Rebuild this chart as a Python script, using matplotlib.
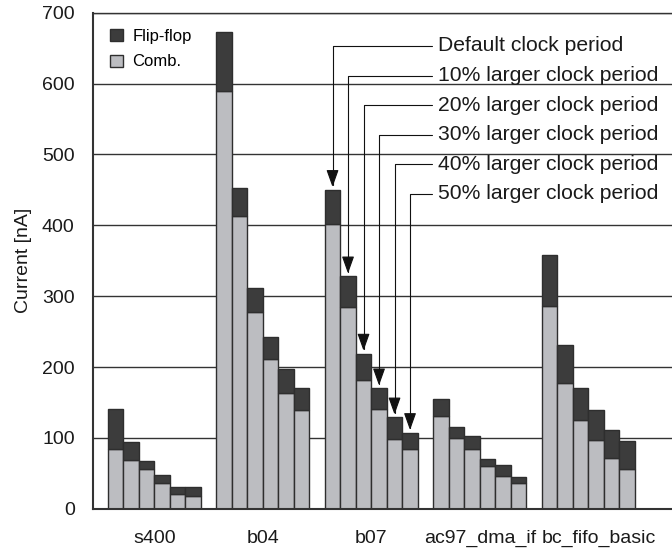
import numpy as np
from matplotlib import pyplot as plt

plt.rcParams['font.family'] = ['Liberation Sans', 'DejaVu Sans']

circuits = ['s400', 'b04', 'b07', 'ac97_dma_if', 'bc_fifo_basic']
periods = ['Default clock period', '10% larger clock period', '20% larger clock period',
           '30% larger clock period', '40% larger clock period', '50% larger clock period']

# combinational current per circuit, one value per clock period setting
comb = {
    's400': [85, 69, 56, 36, 21, 18],
    'b04': [590, 413, 278, 211, 164, 139],
    'b07': [402, 285, 181, 141, 98, 84],
    'ac97_dma_if': [131, 100, 85, 61, 46, 36],
    'bc_fifo_basic': [286, 178, 125, 97, 71, 56],
}
# flip-flop current stacked on top
flipflop = {
    's400': [56, 25, 11, 12, 10, 12],
    'b04': [82, 39, 33, 31, 33, 31],
    'b07': [48, 43, 38, 29, 31, 23],
    'ac97_dma_if': [24, 15, 17, 9, 16, 9],
    'bc_fifo_basic': [72, 53, 45, 42, 40, 40],
}

fig = plt.figure(figsize=(6.72, 5.5), dpi=100)
ax = fig.add_axes([0.138, 0.075, 0.862, 0.902])

n = len(periods)
group = n + 1
for i, name in enumerate(circuits):
    x = group * i + np.arange(n)
    c = np.array(comb[name])
    f = np.array(flipflop[name])
    ax.bar(x, c, width=1.0, align='edge', color='#bcbdc1', edgecolor='#2e2e2e',
           linewidth=1.0, label='Comb.' if i == 0 else None)
    ax.bar(x, f, bottom=c, width=1.0, align='edge', color='#3c3c3c', edgecolor='#2e2e2e',
           linewidth=1.0, label='Flip-flop' if i == 0 else None)

# arrows pointing at the b07 group
b07 = circuits.index('b07')
for k, label in enumerate(periods):
    xb = group * b07 + k + 0.5
    top = comb['b07'][k] + flipflop['b07'][k]
    ax.annotate(label, xy=(xb, top), xytext=(21.3, 653 - 41.7 * k),
                ha='left', va='center', fontsize=15.2, color='#1a1a1a',
                arrowprops=dict(arrowstyle='-|>,head_length=0.7,head_width=0.25',
                                connectionstyle='angle,angleA=0,angleB=90,rad=0',
                                color='#111111', lw=0.8, shrinkA=2, shrinkB=2))

ax.set_xlim(-0.97, 36.4)
ax.set_ylim(0, 700)
ax.set_yticks(range(0, 701, 100))
# the last label is nudged right so the two long names don't collide
xt = [group * i + n / 2 for i in range(len(circuits))]
xt[-1] += 0.7
ax.set_xticks(xt)
ax.set_xticklabels(circuits)
ax.tick_params(axis='both', length=0, labelsize=14, colors='#1a1a1a')
ax.tick_params(axis='y', pad=13)
ax.tick_params(axis='x', pad=15)
ax.set_ylabel('Current [nA]', fontsize=14, color='#1a1a1a', labelpad=7)

ax.yaxis.grid(True, color='#333333', linewidth=1.0)
ax.set_axisbelow(True)
ax.spines['right'].set_visible(False)
for s in ['left', 'bottom', 'top']:
    ax.spines[s].set_color('#333333')
ax.spines['left'].set_linewidth(1.5)
ax.spines['bottom'].set_linewidth(1.5)
ax.spines['top'].set_linewidth(1.0)

handles, labels = ax.get_legend_handles_labels()
ax.legend(handles[::-1], labels[::-1], loc='upper left', bbox_to_anchor=(0.004, 0.998),
          frameon=False, fontsize=12, handlelength=0.75, handleheight=0.75,
          handletextpad=0.6, labelspacing=0.65)

fig.savefig('out.png', dpi=100)
